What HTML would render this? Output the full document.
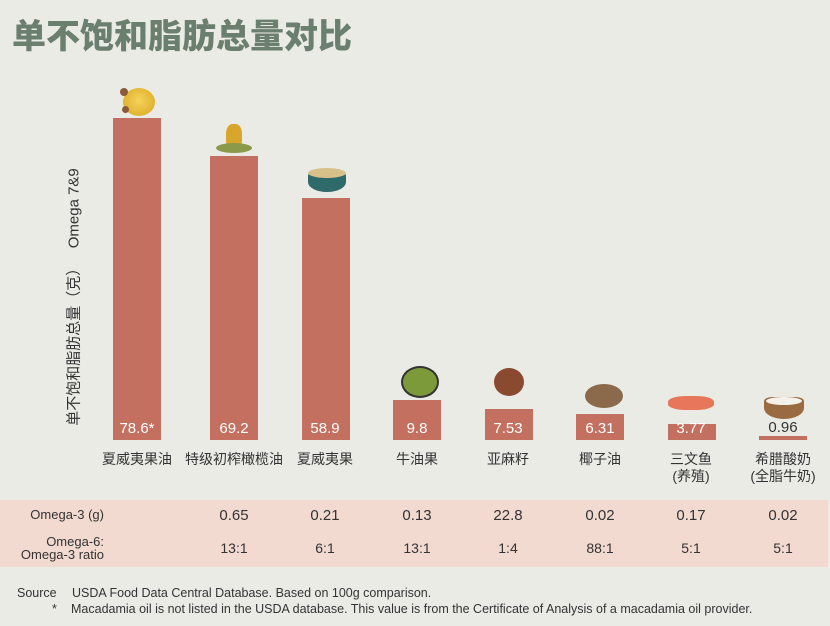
<!DOCTYPE html><html><head><meta charset="utf-8"><style>
body{margin:0;width:830px;height:626px;background:#ebebe6;position:relative;overflow:hidden;font-family:"Liberation Sans","Noto Sans CJK SC",sans-serif;color:#333}
.a{position:absolute}
.bar{position:absolute;background:#c47060;width:48px;bottom:186px}
.v{position:absolute;width:80px;text-align:center;color:#fff;font-size:15px;top:420px}
.c{position:absolute;width:110px;text-align:center;font-size:14px;top:451px;line-height:17px;color:#333}
.t{position:absolute;width:80px;text-align:center;font-size:15px;color:#333}
</style></head><body>
<div class="a" style="left:12px;top:12px;font-size:34px;font-weight:900;color:#6b7f6e;font-family:'Noto Sans CJK SC',sans-serif;line-height:44px">单不饱和脂肪总量对比</div>
<div class="a" style="left:73px;top:297px;transform:translate(-50%,-50%) rotate(-90deg);white-space:nowrap;font-size:15px;color:#333">单不饱和脂肪总量（克）&nbsp;&nbsp;&nbsp;Omega 7&amp;9</div>

<div class="bar" style="left:113px;top:118px;height:322px"></div>
<div class="bar" style="left:210px;top:156px;height:284px"></div>
<div class="bar" style="left:302px;top:198px;height:242px"></div>
<div class="bar" style="left:393px;top:400px;height:40px"></div>
<div class="bar" style="left:485px;top:409px;height:31px"></div>
<div class="bar" style="left:576px;top:414px;height:26px"></div>
<div class="bar" style="left:668px;top:424px;height:16px"></div>
<div class="bar" style="left:759px;top:436px;height:4px"></div>

<div class="v" style="left:97px">78.6*</div>
<div class="v" style="left:194px">69.2</div>
<div class="v" style="left:285px">58.9</div>
<div class="v" style="left:377px">9.8</div>
<div class="v" style="left:468px">7.53</div>
<div class="v" style="left:560px">6.31</div>
<div class="v" style="left:651px">3.77</div>
<div class="v" style="left:743px;color:#333;top:419px">0.96</div>

<div class="c" style="left:82px">夏威夷果油</div>
<div class="c" style="left:179px">特级初榨橄榄油</div>
<div class="c" style="left:270px">夏威夷果</div>
<div class="c" style="left:362px">牛油果</div>
<div class="c" style="left:453px">亚麻籽</div>
<div class="c" style="left:545px">椰子油</div>
<div class="c" style="left:636px">三文鱼<br>(养殖)</div>
<div class="c" style="left:728px">希腊酸奶<br>(全脂牛奶)</div>

<!-- icons -->
<div class="a" style="left:123px;top:88px;width:32px;height:28px;border-radius:50%;background:radial-gradient(circle at 50% 45%,#f5d35a,#d9a520)"></div>
<div class="a" style="left:120px;top:88px;width:8px;height:8px;border-radius:50%;background:#8a5a3a"></div>
<div class="a" style="left:122px;top:106px;width:7px;height:7px;border-radius:50%;background:#8a5a3a"></div>
<div class="a" style="left:226px;top:124px;width:16px;height:24px;border-radius:40% 40% 30% 30%;background:#d8a62a"></div>
<div class="a" style="left:216px;top:143px;width:36px;height:10px;border-radius:50%;background:#8a9a4a"></div>
<div class="a" style="left:308px;top:172px;width:38px;height:20px;border-radius:4px 4px 50% 50%;background:#2f6a6a"></div>
<div class="a" style="left:308px;top:168px;width:38px;height:10px;border-radius:50%;background:#d8c08a"></div>
<div class="a" style="left:401px;top:366px;width:34px;height:28px;border-radius:50%;background:#7c9a3a;border:2px solid #333"></div>
<div class="a" style="left:494px;top:368px;width:30px;height:28px;border-radius:50%;background:#8a4a30"></div>
<div class="a" style="left:585px;top:384px;width:38px;height:24px;border-radius:50%;background:#8a6a4a"></div>
<div class="a" style="left:668px;top:396px;width:46px;height:14px;border-radius:40%;background:#e8765a"></div>
<div class="a" style="left:764px;top:397px;width:40px;height:22px;border-radius:20% 20% 50% 50%;background:#9a6a40"></div>
<div class="a" style="left:766px;top:397px;width:36px;height:8px;border-radius:50%;background:#f4f0ea"></div>

<div class="a" style="left:0;top:500px;width:828px;height:67px;background:#f2dad0"></div>
<div class="a" style="left:0;top:507px;width:104px;text-align:right;font-size:13px">Omega-3 (g)</div>
<div class="a" style="left:0;top:535px;width:104px;text-align:right;font-size:13px;line-height:13px">Omega-6:<br>Omega-3 ratio</div>
<div class="t" style="left:194px;top:507px">0.65</div>
<div class="t" style="left:285px;top:507px">0.21</div>
<div class="t" style="left:377px;top:507px">0.13</div>
<div class="t" style="left:468px;top:507px">22.8</div>
<div class="t" style="left:560px;top:507px">0.02</div>
<div class="t" style="left:651px;top:507px">0.17</div>
<div class="t" style="left:743px;top:507px">0.02</div>
<div class="t" style="left:194px;top:540px;font-size:14px">13:1</div>
<div class="t" style="left:285px;top:540px;font-size:14px">6:1</div>
<div class="t" style="left:377px;top:540px;font-size:14px">13:1</div>
<div class="t" style="left:468px;top:540px;font-size:14px">1:4</div>
<div class="t" style="left:560px;top:540px;font-size:14px">88:1</div>
<div class="t" style="left:651px;top:540px;font-size:14px">5:1</div>
<div class="t" style="left:743px;top:540px;font-size:14px">5:1</div>

<div class="a" style="left:17px;top:586px;font-size:12.5px">Source</div>
<div class="a" style="left:72px;top:586px;font-size:12.5px">USDA Food Data Central Database. Based on 100g comparison.</div>
<div class="a" style="left:52px;top:602px;font-size:12.5px">*</div>
<div class="a" style="left:71px;top:602px;font-size:12.5px">Macadamia oil is not listed in the USDA database. This value is from the Certificate of Analysis of a macadamia oil provider.</div>
</body></html>
